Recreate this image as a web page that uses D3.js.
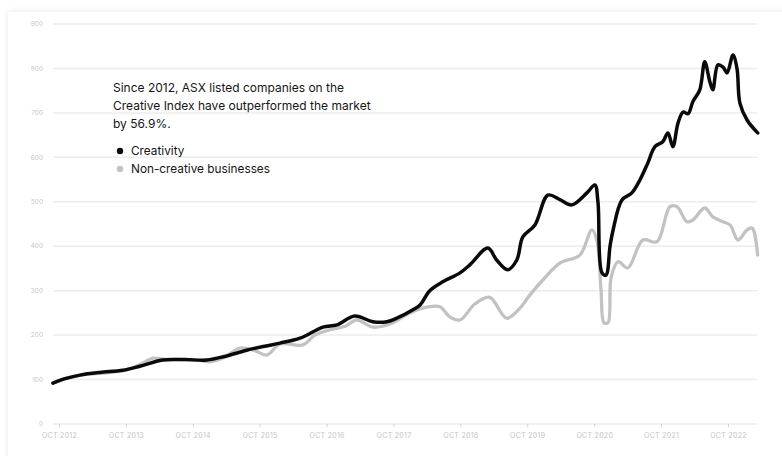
<!DOCTYPE html>
<html>
<head>
<meta charset="utf-8">
<script src="https://cdn.jsdelivr.net/npm/d3@7"></script>
<style>
  html, body { margin: 0; padding: 0; background: #ffffff; }
  svg { display: block; }
</style>
</head>
<body>
<svg id="chart" width="782" height="456"></svg>
<script>
// ---- data ----
const yTicks = [0, 100, 200, 300, 400, 500, 600, 700, 800, 900];
const xTickLabels = ["OCT 2012","OCT 2013","OCT 2014","OCT 2015","OCT 2016","OCT 2017","OCT 2018","OCT 2019","OCT 2020","OCT 2021","OCT 2022"];
const xTickDates = ["2012-10-01","2013-10-01","2014-10-01","2015-10-01","2016-10-01","2017-10-01","2018-10-01","2019-10-01","2020-10-01","2021-10-01","2022-10-01"];

const seriesNames = ["Creativity", "Non-creative businesses"];

const creativityDates = ["2012-08-29","2012-11-03","2013-01-24","2013-05-11","2013-09-15","2013-12-16","2014-04-20","2014-08-19","2014-12-17","2015-03-24","2015-07-22","2015-10-29","2016-01-20","2016-05-08","2016-09-11","2016-11-27","2017-03-03","2017-06-10","2017-08-26","2017-10-19","2018-01-15","2018-02-23","2018-04-17","2018-06-27","2018-09-29","2018-11-22","2019-02-28","2019-04-17","2019-06-16","2019-08-05","2019-09-07","2019-11-12","2020-01-22","2020-03-27","2020-06-01","2020-08-22","2020-10-04","2020-10-21","2020-11-12","2020-12-04","2020-12-26","2021-01-12","2021-03-01","2021-04-24","2021-06-07","2021-07-20","2021-08-28","2021-10-10","2021-11-07","2021-12-04","2022-01-01","2022-01-29","2022-02-25","2022-03-23","2022-04-30","2022-05-27","2022-06-24","2022-07-10","2022-08-07","2022-09-04","2022-09-26","2022-10-28","2022-11-19","2022-12-05","2023-01-13","2023-03-12"];
const creativityValues = [92,102,110,116,121,130,144,145,144,152,166,175,182,193,218,223,243,230,230,238,257,268,300,320,340,358,396,369,347,369,421,448,515,505,493,520,538,500,340,335,400,437,504,520,549,587,624,635,655,624,677,702,698,725,752,815,770,752,808,803,790,830,800,722,684,655];

const nonCreativeDates = ["2012-08-29","2012-11-03","2013-01-24","2013-05-11","2013-09-15","2013-12-16","2014-02-26","2014-04-20","2014-08-19","2014-11-09","2015-01-03","2015-03-24","2015-06-15","2015-09-05","2015-11-09","2016-01-20","2016-05-24","2016-07-29","2016-10-19","2017-01-10","2017-03-14","2017-06-10","2017-09-11","2017-12-30","2018-04-01","2018-06-11","2018-08-04","2018-09-29","2018-12-19","2019-03-10","2019-06-11","2019-08-21","2019-10-15","2019-12-25","2020-03-27","2020-07-14","2020-09-18","2020-10-15","2020-11-07","2020-11-23","2020-12-15","2021-01-01","2021-02-08","2021-04-02","2021-06-23","2021-09-08","2021-11-18","2021-12-26","2022-02-19","2022-03-23","2022-05-27","2022-07-10","2022-09-04","2022-10-12","2022-11-25","2023-01-13","2023-02-10","2023-03-12"];
const nonCreativeValues = [92,102,110,114,120,133,148,146,145,143,140,150,171,165,155,180,178,200,212,220,234,218,225,250,263,264,241,234,270,285,238,260,290,324,362,380,437,414,300,228,228,330,365,351,414,410,489,489,455,459,486,466,455,448,414,437,441,380];

const annotationLines = ["Since 2012, ASX listed companies on the", "Creative Index have outperformed the market", "by 56.9%."];

// ---- layout ----
const svg = d3.select("#chart");
const parse = d3.timeParse("%Y-%m-%d");
const x = d3.scaleTime().domain([parse("2012-10-01"), parse("2022-10-01")]).range([59, 728]);
const y = d3.scaleLinear().domain([0, 900]).range([424, 24]);
const gridX0 = 53, gridX1 = 757;
const font = "Inter, 'Noto Sans', sans-serif";

// card with shadow
const defs = svg.append("defs");
const f = defs.append("filter").attr("id", "sh").attr("x", "-5%").attr("y", "-5%").attr("width", "110%").attr("height", "110%");
f.append("feDropShadow").attr("dx", 0).attr("dy", 0).attr("stdDeviation", 3).attr("flood-color", "#000").attr("flood-opacity", 0.10);
svg.append("rect").attr("x", 8).attr("y", 12).attr("width", 820).attr("height", 480).attr("fill", "#fff").attr("filter", "url(#sh)");

// gridlines
svg.append("g").selectAll("line").data(yTicks).join("line")
  .attr("x1", gridX0).attr("x2", gridX1)
  .attr("y1", d => y(d)).attr("y2", d => y(d))
  .attr("stroke", "#ececec").attr("stroke-width", 1.5);

// y labels
svg.append("g").selectAll("text").data(yTicks).join("text")
  .attr("x", 43).attr("y", d => y(d)).attr("dy", "0.35em")
  .attr("text-anchor", "end").attr("font-family", font).attr("font-size", 6.5)
  .attr("fill", "#c6c6c6").text(d => d);

// x axis
const xAxis = d3.axisBottom(x)
  .tickValues(xTickDates.map(parse))
  .tickFormat((d, i) => xTickLabels[i])
  .tickSize(3).tickSizeOuter(0);
const gx = svg.append("g").attr("transform", `translate(0,${y(0)})`).call(xAxis);
gx.select(".domain").remove();
gx.selectAll(".tick line").attr("stroke", "#d0d0d0");
gx.selectAll(".tick text").attr("font-family", font).attr("font-size", 7).attr("fill", "#c4c4c4")
  .attr("letter-spacing", "0.3px").attr("dy", "1.15em");

// lines
const line = d3.line().x(d => x(d[0])).y(d => y(d[1])).curve(d3.curveCatmullRom.alpha(0.5));
const nonData = nonCreativeDates.map((d, i) => [parse(d), nonCreativeValues[i]]);
const creData = creativityDates.map((d, i) => [parse(d), creativityValues[i]]);

svg.append("path").datum(nonData).attr("d", line)
  .attr("fill", "none").attr("stroke", "#c2c2c2").attr("stroke-width", 3.3)
  .attr("stroke-linejoin", "round").attr("stroke-linecap", "round");
svg.append("path").datum(creData).attr("d", line)
  .attr("fill", "none").attr("stroke", "#0a0a0a").attr("stroke-width", 3.5)
  .attr("stroke-linejoin", "round").attr("stroke-linecap", "round");

// annotation
svg.append("g").selectAll("text").data(annotationLines).join("text")
  .attr("x", 113).attr("y", (d, i) => 92 + i * 18)
  .attr("font-family", font).attr("font-size", 12).attr("fill", "#151515")
  .text(d => d);

// legend
const legColors = ["#0a0a0a", "#c2c2c2"];
const leg = svg.append("g").selectAll("g").data(seriesNames).join("g")
  .attr("transform", (d, i) => `translate(120,${151 + i * 18})`);
leg.append("circle").attr("r", 3.2).attr("fill", (d, i) => legColors[i]);
leg.append("text").attr("x", 11).attr("dy", "0.35em")
  .attr("font-family", font).attr("font-size", 11.8).attr("fill", "#151515").text(d => d);
</script>
</body>
</html>
